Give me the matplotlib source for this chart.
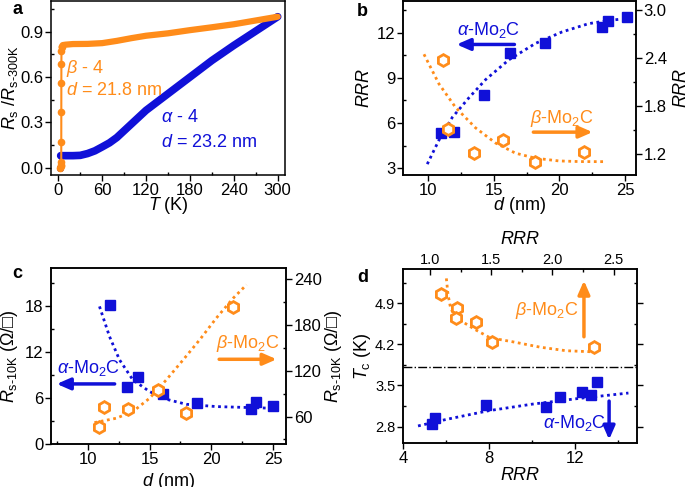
import numpy as np
import matplotlib
matplotlib.use("Agg")
import matplotlib.pyplot as plt
from matplotlib.ticker import MultipleLocator, FormatStrFormatter

plt.rcParams['font.family'] = ['Liberation Sans', 'DejaVu Sans']
plt.rcParams['mathtext.fontset'] = 'custom'
plt.rcParams['mathtext.rm'] = 'Liberation Sans'
plt.rcParams['mathtext.it'] = 'Liberation Sans:italic'
plt.rcParams['mathtext.bf'] = 'Liberation Sans:bold'

BLUE = '#1010d8'
ORANGE = '#ff8c1a'

# ---- panel a: normalised R(T)
alpha_T = [3.2, 5, 10, 20, 30, 40, 50, 60, 70, 80, 90, 100, 120, 150, 180, 210, 240, 270, 300]
alpha_R = [0.08, 0.08, 0.08, 0.08, 0.082, 0.094, 0.112, 0.138, 0.165, 0.20, 0.245, 0.29, 0.38, 0.49, 0.60, 0.71, 0.81, 0.905, 1.0]
alpha_trans_T = [2.0, 2.8, 3.2]
alpha_trans_R = [0.0, 0.0, 0.08]
beta_T = [4.5, 6, 10, 20, 40, 60, 80, 100, 120, 150, 180, 210, 240, 270, 300]
beta_R = [0.80, 0.812, 0.815, 0.819, 0.82, 0.825, 0.84, 0.858, 0.874, 0.89, 0.911, 0.93, 0.95, 0.975, 1.0]
beta_trans_T = [2.0, 3.0, 3.9, 4.0, 4.05, 4.1, 4.15, 4.2, 4.3, 4.5]
beta_trans_R = [0.0, 0.01, 0.02, 0.04, 0.17, 0.37, 0.56, 0.69, 0.77, 0.80]

# ---- panel b: RRR vs thickness
a_d = [11.0, 11.95, 14.24, 16.22, 18.93, 23.25, 23.71, 25.15]
a_rrr = [5.33, 5.40, 7.84, 10.63, 11.32, 12.37, 12.76, 13.02]
b_d = [11.12, 11.52, 13.48, 15.71, 18.10, 21.90]
b_rrr = [2.38, 1.52, 1.21, 1.38, 1.10, 1.23]
a_fit_d = [9.92, 10.8, 11.83, 13.1, 14.37, 16.14, 18.17, 20.2, 22.23, 23.76, 24.5]
a_fit_rrr = [3.28, 4.85, 6.38, 7.68, 8.88, 10.19, 11.28, 12.04, 12.59, 12.8, 12.87]
b_fit_d = [9.67, 10.81, 12.08, 13.6, 15.13, 16.65, 18.17, 19.95, 21.5, 23.38]
b_fit_rrr = [2.45, 2.08, 1.785, 1.53, 1.34, 1.213, 1.15, 1.116, 1.108, 1.107]

# ---- panel c: R_s at 10 K vs thickness
a_rs = [18.2, 7.5, 8.73, 6.5, 5.32, 4.54, 5.5, 5.02]
c_a_d = [11.76, 13.19, 14.05, 16.08, 18.84, 23.16, 23.59, 25.0]
b_rs = [46.9, 73.1, 69.6, 95.0, 65.2, 203.3]
c_b_d = [10.95, 11.35, 13.24, 15.68, 17.97, 21.76]
a_rs_fit_d = [10.95, 11.76, 12.57, 13.65, 15.0, 16.35, 17.97, 20.4, 23.1, 25.0]
a_rs_fit = [17.98, 14.05, 11.0, 8.38, 6.85, 5.85, 5.19, 4.89, 4.76, 4.67]
b_rs_fit_d = [10.54, 12.3, 13.65, 15.0, 16.35, 17.7, 19.05, 20.4, 21.76, 22.84]
b_rs_fit = [52.1, 57.8, 66.6, 84, 108, 134, 160.5, 189, 215, 232.6]

# ---- panel d: Tc vs RRR
a_tc = [2.84, 2.94, 3.16, 3.14, 3.30, 3.39, 3.34, 3.55]
a_tc_rrr = [5.35, 5.48, 7.88, 10.65, 11.3, 12.33, 12.78, 13.03]
b_tc = [5.05, 4.81, 4.65, 4.58, 4.23, 4.16]
b_tc_rrr = [1.094, 1.22, 1.21, 1.375, 1.508, 2.34]
a_tc_fit_rrr = [4.7, 6, 8, 10, 12, 14.5]
a_tc_fit = [2.81, 2.92, 3.07, 3.18, 3.27, 3.37]
b_tc_fit_rrr = [1.134, 1.147, 1.17, 1.23, 1.36, 1.49, 1.68, 1.90, 2.11, 2.34]
b_tc_fit = [5.32, 5.05, 4.80, 4.63, 4.46, 4.31, 4.24, 4.15, 4.09, 4.07]

TICK = 12
LAB = 13
TXT = 13
DOT = (0, (1, 1.3))
ARROW = dict(arrowstyle='-|>,head_length=0.8,head_width=0.35', lw=2.5)


def style(ax, labelsize=TICK):
    ax.tick_params(which='major', direction='out', length=4, width=1, labelsize=labelsize, pad=1.5)
    ax.tick_params(which='minor', direction='in', length=2.5, width=1)
    for s in ax.spines.values():
        s.set_linewidth(1.1)


def sq(ax, x, y):
    ax.plot(x, y, 's', color=BLUE, ms=7, ls='none', zorder=3)


def hexa(ax, x, y):
    ax.plot(x, y, 'h', mfc='white', mec=ORANGE, mew=2, ms=8.5, ls='none', zorder=3)


def arrow(ax, xy, xytext, color):
    ax.annotate('', xy=xy, xytext=xytext, arrowprops=dict(ARROW, color=color))


fig = plt.figure(figsize=(6.85, 4.87), dpi=100)
W, H = 685, 487


def axes_px(x0, y0, x1, y1):
    return fig.add_axes([x0 / W, 1 - y1 / H, (x1 - x0) / W, (y1 - y0) / H])


# ---------- a
ax = axes_px(51, 1, 285, 175)
ax.plot(alpha_T, alpha_R, '-', color=BLUE, lw=5.5, solid_capstyle='round')
ax.plot(alpha_trans_T, alpha_trans_R, 'o-', color=BLUE, lw=1.5, ms=4)
ax.plot(beta_T, beta_R, '-', color=ORANGE, lw=4.5, solid_capstyle='round')
ax.plot(beta_trans_T, beta_trans_R, 'o-', color=ORANGE, lw=1.5, ms=4.5)
ax.set_xlim(-10, 310)
ax.set_ylim(-0.048, 1.104)
ax.xaxis.set_major_locator(MultipleLocator(60))
ax.xaxis.set_minor_locator(MultipleLocator(30))
ax.yaxis.set_major_locator(MultipleLocator(0.3))
ax.yaxis.set_minor_locator(MultipleLocator(0.15))
style(ax)
ax.set_xlabel(r'$\it{T}$ (K)', fontsize=LAB)
ax.set_ylabel(r'$\it{R}_{\rm s}$ /$\it{R}_{\rm s\text{-}300K}$', fontsize=LAB)
ax.xaxis.set_label_coords(0.5, -0.115)
ax.yaxis.set_label_coords(-0.132, 0.5)
ax.text(11, 0.66, r'$\it{\beta}$ - 4', color=ORANGE, fontsize=TXT, va='center')
ax.text(11, 0.51, r'$\it{d}$ = 21.8 nm', color=ORANGE, fontsize=TXT, va='center')
ax.text(141, 0.33, r'$\it{\alpha}$ - 4', color=BLUE, fontsize=TXT, va='center')
ax.text(141, 0.17, r'$\it{d}$ = 23.2 nm', color=BLUE, fontsize=TXT, va='center')
fig.text(12 / W, 1 - 9 / H, 'a', fontsize=13, fontweight='bold', va='center')

# ---------- b
ax = axes_px(403, 1, 636, 175)
axr = ax.twinx()
ax.plot(a_fit_d, a_fit_rrr, ls=DOT, color=BLUE, lw=2)
sq(ax, a_d, a_rrr)
axr.plot(b_fit_d, b_fit_rrr, ls=DOT, color=ORANGE, lw=2)
hexa(axr, b_d, b_rrr)
ax.set_xlim(8.07, 25.84)
ax.set_ylim(2.56, 14.09)
axr.set_ylim(0.94, 3.116)
ax.xaxis.set_major_locator(MultipleLocator(5))
ax.xaxis.set_minor_locator(MultipleLocator(2.5))
ax.yaxis.set_major_locator(MultipleLocator(3))
ax.yaxis.set_minor_locator(MultipleLocator(1.5))
axr.yaxis.set_major_locator(MultipleLocator(0.6))
axr.yaxis.set_minor_locator(MultipleLocator(0.3))
style(ax)
style(axr)
ax.set_xlabel(r'$\it{d}$ (nm)', fontsize=LAB)
ax.set_ylabel(r'$\it{RRR}$', fontsize=LAB)
axr.set_ylabel(r'$\it{RRR}$', fontsize=LAB)
ax.xaxis.set_label_coords(0.5, -0.115)
ax.yaxis.set_label_coords(-0.129, 0.5)
axr.yaxis.set_label_coords(1.16, 0.5)
ax.text(14.62, 12.15, r'$\it{\alpha}$-Mo$_2$C', color=BLUE, fontsize=TXT, ha='center', va='center')
arrow(ax, (11.95, 11.21), (16.78, 11.21), BLUE)
ax.text(20.2, 6.31, r'$\it{\beta}$-Mo$_2$C', color=ORANGE, fontsize=TXT, ha='center', va='center')
arrow(ax, (22.74, 5.40), (17.8, 5.40), ORANGE)
fig.text(357 / W, 1 - 11 / H, 'b', fontsize=13, fontweight='bold', va='center')

# ---------- c
ax = axes_px(51, 268, 286, 444)
axr = ax.twinx()
ax.plot(a_rs_fit_d, a_rs_fit, ls=DOT, color=BLUE, lw=2)
sq(ax, c_a_d, a_rs)
axr.plot(b_rs_fit_d, b_rs_fit, ls=DOT, color=ORANGE, lw=2)
hexa(axr, c_b_d, b_rs)
ax.set_xlim(7.03, 26.03)
ax.set_ylim(0, 23.0)
axr.set_ylim(24.1, 254.5)
ax.xaxis.set_major_locator(MultipleLocator(5))
ax.xaxis.set_minor_locator(MultipleLocator(2.5))
ax.yaxis.set_major_locator(MultipleLocator(6))
ax.yaxis.set_minor_locator(MultipleLocator(3))
axr.yaxis.set_major_locator(MultipleLocator(60))
axr.yaxis.set_minor_locator(MultipleLocator(30))
style(ax)
style(axr)
ax.set_xlabel(r'$\it{d}$ (nm)', fontsize=LAB)
ax.set_ylabel(r'$\it{R}_{\rm s\text{-}10K}$ ($\Omega$/□)', fontsize=LAB)
axr.set_ylabel(r'$\it{R}_{\rm s\text{-}10K}$ ($\Omega$/□)', fontsize=LAB)
ax.xaxis.set_label_coords(0.5, -0.155)
ax.yaxis.set_label_coords(-0.132, 0.5)
axr.yaxis.set_label_coords(1.157, 0.5)
ax.text(10.08, 9.9, r'$\it{\alpha}$-Mo$_2$C', color=BLUE, fontsize=TXT, ha='center', va='center')
arrow(ax, (7.27, 7.85), (12.4, 7.85), BLUE)
axr.text(22.95, 156, r'$\it{\beta}$-Mo$_2$C', color=ORANGE, fontsize=TXT, ha='center', va='center')
arrow(axr, (25.5, 135), (20.4, 135), ORANGE)
fig.text(12 / W, 1 - 273 / H, 'c', fontsize=13, fontweight='bold', va='center')

# ---------- d
ax = axes_px(403, 269, 637, 443)
axt = ax.twiny()
ax.plot(a_tc_fit_rrr, a_tc_fit, ls=DOT, color=BLUE, lw=2)
sq(ax, a_tc_rrr, a_tc)
axt.plot(b_tc_fit_rrr, b_tc_fit, ls=DOT, color=ORANGE, lw=2)
hexa(axt, b_tc_rrr, b_tc)
ax.axhline(3.81, color='black', lw=1, ls='-.')
ax.set_xlim(4.0, 14.9)
axt.set_xlim(0.78, 2.69)
ax.set_ylim(2.52, 5.48)
ax.xaxis.set_major_locator(MultipleLocator(4))
ax.xaxis.set_minor_locator(MultipleLocator(2))
axt.xaxis.set_major_locator(MultipleLocator(0.5))
axt.xaxis.set_minor_locator(MultipleLocator(0.25))
ax.yaxis.set_major_locator(MultipleLocator(0.7))
ax.yaxis.set_minor_locator(MultipleLocator(0.35))
style(ax)
ax.tick_params(axis='y', labelsize=10.5)
ax.tick_params(axis='y', which='both', right=True)
style(axt, labelsize=10.5)
axt.tick_params(which='both', direction='in')
axt.xaxis.set_major_formatter(FormatStrFormatter('%.1f'))
ax.set_xlabel(r'$\it{RRR}$', fontsize=LAB)
axt.set_xlabel(r'$\it{RRR}$', fontsize=LAB)
ax.set_ylabel(r'$\it{T}_{\rm c}$ (K)', fontsize=LAB)
ax.xaxis.set_label_coords(0.5, -0.14)
axt.xaxis.set_label_coords(0.5, 1.144)
ax.yaxis.set_label_coords(-0.13, 0.5)
axt.text(1.955, 4.77, r'$\it{\beta}$-Mo$_2$C', color=ORANGE, fontsize=TXT, ha='center', va='center')
arrow(axt, (2.257, 5.33), (2.257, 4.28), ORANGE)
ax.text(12.0, 2.86, r'$\it{\alpha}$-Mo$_2$C', color=BLUE, fontsize=TXT, ha='center', va='center')
arrow(ax, (13.6, 2.53), (13.6, 3.28), BLUE)
fig.text(357 / W, 1 - 277 / H, 'd', fontsize=13, fontweight='bold', va='center')

fig.savefig('out.png', dpi=100)
